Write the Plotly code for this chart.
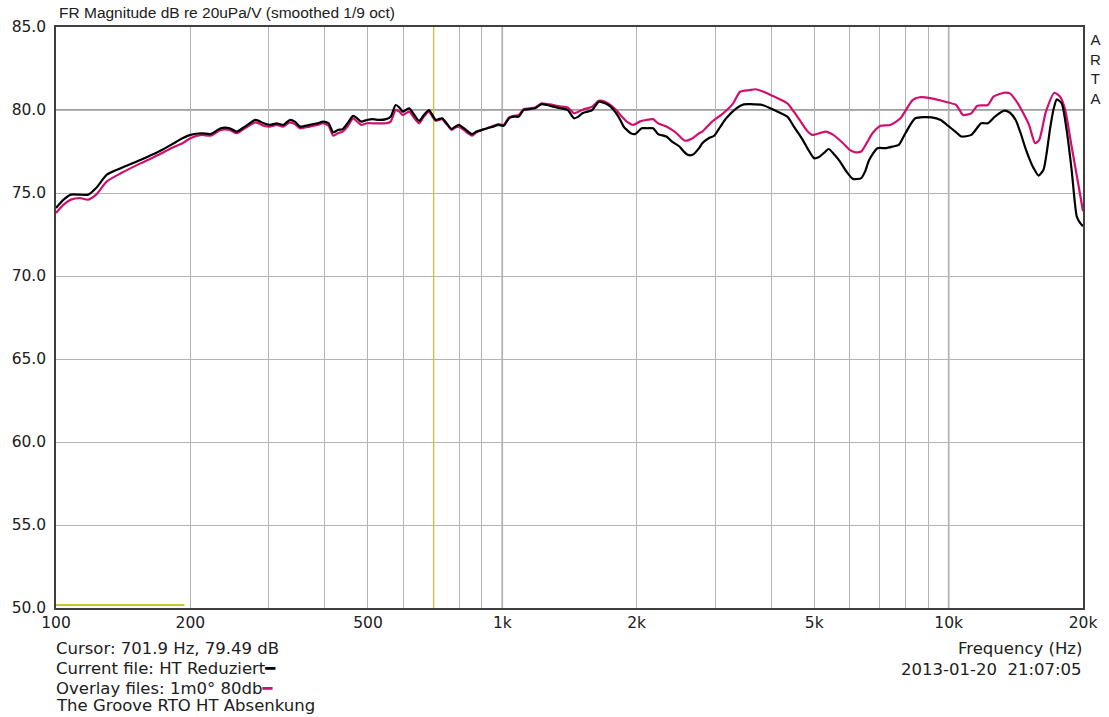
import plotly.graph_objects as go

# ---------------- data ----------------
freq_black = [100, 104, 108, 113, 118, 123, 130, 140, 155, 170, 181, 192, 200, 212, 222, 234, 245, 254, 265, 280,
              292, 302, 312, 323, 334, 343, 352, 370, 385, 397, 408, 418, 428, 439, 450, 463, 473, 483, 497, 513,
              530, 549, 562, 577, 588, 598, 608, 619, 635, 651, 667, 685, 697, 709, 720, 733, 750, 770, 785, 799,
              820, 838, 855, 875, 900, 925, 955, 980, 1007, 1035, 1060, 1089, 1116, 1150, 1184, 1225, 1260, 1300,
              1355, 1401, 1448, 1480, 1511, 1550, 1590, 1645, 1700, 1748, 1800, 1838, 1870, 1901, 1940, 1983, 2052,
              2110, 2177, 2233, 2331, 2400, 2494, 2550, 2601, 2669, 2760, 2806, 2900, 2983, 3080, 3174, 3345, 3475,
              3600, 3825, 4063, 4352, 4500, 4662, 4850, 4993, 5110, 5250, 5384, 5550, 5706, 5900, 6107, 6370, 6500,
              6640, 6924, 7223, 7500, 7734, 8000, 8420, 9160, 9600, 9980, 10350, 10680, 11240, 11830, 12240, 12700,
              13320, 13700, 14130, 14500, 14860, 15200, 15500, 15900, 16310, 16600, 16880, 17200, 17470, 17920,
              18380, 18860, 19360, 19700, 20000]
db_black = [74.1, 74.6, 74.9, 74.9, 74.9, 75.3, 76.1, 76.5, 77.0, 77.5, 77.9, 78.3, 78.5, 78.6, 78.55, 78.9, 78.9,
            78.7, 79.0, 79.4, 79.2, 79.1, 79.2, 79.1, 79.4, 79.3, 79.0, 79.1, 79.2, 79.3, 79.2, 78.65, 78.8, 78.85,
            79.2, 79.65, 79.5, 79.3, 79.4, 79.45, 79.4, 79.45, 79.6, 80.3, 80.15, 79.9, 80.0, 80.1, 79.7, 79.35,
            79.7, 80.0, 79.7, 79.4, 79.45, 79.5, 79.2, 78.85, 79.0, 79.1, 78.9, 78.7, 78.55, 78.7, 78.8, 78.9, 79.0,
            79.1, 79.05, 79.5, 79.6, 79.6, 80.0, 80.05, 80.1, 80.35, 80.3, 80.2, 80.1, 80.0, 79.5, 79.6, 79.8, 79.9,
            80.0, 80.5, 80.4, 80.2, 79.8, 79.4, 79.0, 78.8, 78.6, 78.55, 78.9, 78.9, 78.9, 78.55, 78.4, 78.1, 77.8,
            77.5, 77.3, 77.3, 77.7, 78.0, 78.3, 78.45, 79.0, 79.5, 80.1, 80.34, 80.35, 80.3, 80.0, 79.6, 79.0, 78.4,
            77.6, 77.1, 77.15, 77.4, 77.65, 77.3, 76.9, 76.3, 75.85, 75.9, 76.3, 77.0, 77.7, 77.7, 77.8, 77.9, 78.6,
            79.5, 79.56, 79.4, 79.04, 78.7, 78.4, 78.5, 79.2, 79.2, 79.6, 79.96, 79.85, 79.4, 78.6, 77.7, 77.0, 76.5,
            76.05, 76.4, 77.5, 78.9, 80.1, 80.64, 80.4, 78.8, 76.4, 73.6, 73.2, 73.0]

freq_pink = [100, 104, 108, 113, 118, 123, 130, 140, 155, 170, 181, 192, 200, 212, 222, 234, 245, 254, 265, 280,
             292, 302, 312, 323, 334, 343, 352, 370, 385, 397, 408, 418, 428, 439, 450, 463, 473, 483, 497, 513,
             530, 549, 562, 577, 588, 598, 608, 619, 635, 651, 667, 685, 697, 709, 720, 733, 750, 770, 785, 799,
             820, 838, 855, 875, 900, 925, 955, 980, 1007, 1035, 1060, 1089, 1116, 1150, 1184, 1225, 1260, 1300,
             1355, 1401, 1448, 1480, 1511, 1550, 1590, 1645, 1700, 1748, 1800, 1838, 1869, 1901, 1966, 2030, 2100,
             2177, 2233, 2331, 2400, 2457, 2566, 2669, 2760, 2806, 2951, 3124, 3290, 3409, 3581, 3695, 3850, 3995,
             4352, 4500, 4662, 4800, 4950, 5300, 5513, 5800, 6000, 6190, 6370, 6550, 6750, 7040, 7400, 7800, 8300,
             8610, 9160, 9830, 10400, 10770, 11240, 11600, 12240, 12600, 13320, 13720, 14290, 14700, 15140, 15620,
             15960, 16520, 17260, 17770, 18250, 18860, 19500, 20000]
db_pink = [73.8, 74.3, 74.6, 74.7, 74.6, 74.9, 75.7, 76.2, 76.8, 77.3, 77.7, 78.0, 78.3, 78.5, 78.45, 78.8, 78.8,
           78.6, 78.9, 79.25, 79.05, 79.0, 79.1, 79.0, 79.25, 79.15, 78.9, 79.0, 79.1, 79.2, 79.05, 78.45, 78.6, 78.7,
           79.0, 79.5, 79.3, 79.1, 79.2, 79.2, 79.2, 79.2, 79.3, 80.0, 79.9, 79.7, 79.8, 79.9, 79.5, 79.2, 79.6, 79.9,
           79.6, 79.35, 79.4, 79.45, 79.15, 78.8, 78.95, 79.0, 78.8, 78.6, 78.45, 78.65, 78.8, 78.9, 79.05, 79.15,
           79.1, 79.55, 79.65, 79.7, 80.05, 80.1, 80.15, 80.4, 80.35, 80.3, 80.2, 80.15, 79.8, 79.9, 80.0, 80.1, 80.2,
           80.55, 80.5, 80.3, 80.0, 79.7, 79.5, 79.3, 79.1, 79.3, 79.4, 79.45, 79.2, 79.0, 78.8, 78.6, 78.15, 78.3,
           78.6, 78.7, 79.3, 79.8, 80.4, 81.1, 81.2, 81.25, 81.1, 80.9, 80.4, 79.9, 79.3, 78.8, 78.5, 78.7, 78.5, 78.0,
           77.6, 77.45, 77.5, 78.0, 78.6, 79.05, 79.1, 79.5, 80.6, 80.77, 80.7, 80.5, 80.3, 79.7, 79.8, 80.26, 80.3,
           80.8, 81.04, 81.0, 80.4, 79.8, 79.1, 78.0, 78.2, 79.9, 81.04, 80.8, 80.0, 77.8, 75.6, 73.9]

cursor_freq = 701.9
cursor_db = 79.49
marker_band = [100, 194]
marker_level = 50.18

grid_x = [100, 200, 300, 400, 500, 600, 700, 800, 900, 1000, 2000, 3000, 4000, 5000, 6000, 7000, 8000, 9000,
          10000, 20000]
grid_x_text = ["100", "200", "", "", "500", "", "", "", "", "1k", "2k", "", "", "5k", "", "", "", "", "10k", "20k"]
y_ticks = [50, 55, 60, 65, 70, 75, 80, 85]
y_tick_text = ["50.0", "55.0", "60.0", "65.0", "70.0", "75.0", "80.0", "85.0"]
dark_grid_x = [1000, 10000]
dark_grid_y = [80]

FONT = "Liberation Sans, Arial, sans-serif"
WIDE = "DejaVu Sans, Verdana, sans-serif"
TXT = "#202020"

fig = go.Figure()

# yellow marker band near the bottom
fig.add_trace(go.Scatter(x=marker_band, y=[marker_level, marker_level], mode="lines",
                         line=dict(color="#c8c820", width=2), hoverinfo="skip", showlegend=False))
# cursor line
fig.add_trace(go.Scatter(x=[cursor_freq, cursor_freq], y=[50, 85], mode="lines",
                         line=dict(color="#c8c832", width=1.2), hoverinfo="skip", showlegend=False))

fig.add_trace(go.Scatter(x=freq_pink, y=db_pink, mode="lines", line_shape="spline",
                         line=dict(color="#d0106e", width=2.2, smoothing=0.6), showlegend=False))
fig.add_trace(go.Scatter(x=freq_black, y=db_black, mode="lines", line_shape="spline",
                         line=dict(color="#000000", width=2.2, smoothing=0.6), showlegend=False))

shapes = []
for gx in dark_grid_x:
    shapes.append(dict(type="line", xref="x", yref="paper", x0=gx, x1=gx, y0=0, y1=1,
                       line=dict(color="#8a8a8a", width=1.5), layer="below"))
for gy in dark_grid_y:
    shapes.append(dict(type="line", xref="paper", yref="y", x0=0, x1=1, y0=gy, y1=gy,
                       line=dict(color="#808080", width=1.5), layer="below"))

W, H = 1109, 717
L, R, T, B = 51, 1085, 27, 608
pw, ph = R - L, B - T


def px(x):
    return (x - L) / pw


def py(y):
    return (B - y) / ph


info_font = dict(size=16.5, family=WIDE, color=TXT)
annotations = [
    dict(text="FR Magnitude dB re 20uPa/V (smoothed 1/9 oct)", x=px(52), y=py(13), xanchor="left",
         yanchor="middle", font=dict(size=15.5, family=FONT, color=TXT)),
    dict(text="A<br>R<br>T<br>A", x=px(1098), y=py(29), xanchor="center", yanchor="top",
         font=dict(size=15, family=FONT, color=TXT), align="center"),
    dict(text="Cursor: %.1f Hz, %.2f dB" % (cursor_freq, cursor_db), x=px(49), y=py(648), xanchor="left",
         yanchor="middle", font=info_font),
    dict(text="Current file: HT Reduziert<span style='color:#000000'>━</span>", x=px(49), y=py(668),
         xanchor="left", yanchor="middle", font=info_font),
    dict(text="Overlay files: 1m0° 80db<span style='color:#d0106e'>━</span>", x=px(49), y=py(688),
         xanchor="left", yanchor="middle", font=info_font),
    dict(text="The Groove RTO HT Absenkung", x=px(49), y=py(705), xanchor="left", yanchor="middle",
         font=info_font),
    dict(text="Frequency (Hz)", x=px(1086), y=py(648), xanchor="right", yanchor="middle", font=info_font),
    dict(text="2013-01-20  21:07:05", x=px(1086), y=py(669), xanchor="right", yanchor="middle",
         font=info_font),
]
for a in annotations:
    a.update(xref="paper", yref="paper", showarrow=False)

fig.update_layout(
    width=W, height=H,
    margin=dict(l=L, r=W - R, t=T, b=H - B, pad=0),
    paper_bgcolor="white", plot_bgcolor="white",
    font=dict(family=FONT, size=15, color=TXT),
    shapes=shapes, annotations=annotations,
    xaxis=dict(type="log", range=[2, 4.30103], tickvals=grid_x, ticktext=grid_x_text,
               showgrid=True, gridcolor="#b4b4b4", gridwidth=1.2, zeroline=False,
               showline=True, linecolor="#404040", linewidth=1.5, mirror=True,
               ticks="", tickfont=dict(size=15.5, family=WIDE, color=TXT)),
    yaxis=dict(range=[50, 85], tickvals=y_ticks, ticktext=y_tick_text,
               showgrid=True, gridcolor="#b4b4b4", gridwidth=1.2, zeroline=False,
               showline=True, linecolor="#404040", linewidth=1.5, mirror=True,
               ticks="", ticklabelstandoff=5, tickfont=dict(size=15.5, family=WIDE, color=TXT)),
)

fig.write_html("out.html", config={"displayModeBar": False},
               post_script="document.body.style.margin='0';document.body.style.overflow='hidden';")
